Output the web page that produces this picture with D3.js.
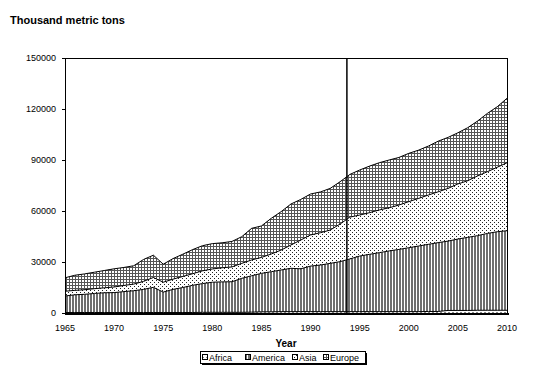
<!DOCTYPE html>
<html>
<head>
<meta charset="utf-8">
<script src="https://cdn.jsdelivr.net/npm/d3@7"></script>
<style>
  body { margin: 0; background: #fff; }
  svg { display: block; font-family: "Liberation Sans", Arial, sans-serif; }
</style>
</head>
<body>
<script>
const years = d3.range(1965, 2011);
const seriesNames = ["Africa", "America", "Asia", "Europe"];

// thousand metric tons
const africa = [300, 300, 300, 300, 300, 300, 300, 300, 300, 300,
  300, 300, 300, 300, 400, 400, 400, 400, 400, 500,
  700, 700, 800, 800, 800, 800, 800, 800, 800, 800,
  800, 800, 800, 800, 800, 800, 800, 900, 900, 1500,
  1500, 1500, 1600, 1600, 1600, 1600];
const america = [9700, 10400, 10700, 11200, 11600, 11700, 12300, 12800, 13600, 14800,
  12000, 13600, 14700, 16000, 16900, 17700, 17900, 18000, 20000, 21400,
  22600, 23600, 24500, 25500, 25200, 26800, 27400, 28400, 29400, 31000,
  32700, 33700, 34700, 35700, 36600, 37600, 38600, 39500, 40500, 40800,
  42000, 43000, 43900, 45200, 46200, 46800];
const asia = [2800, 2600, 2700, 2800, 2900, 3300, 3600, 3900, 4700, 5800,
  5800, 6000, 6500, 6800, 7500, 7800, 8300, 8700, 8800, 9300,
  9400, 10400, 11700, 13700, 16900, 18300, 19000, 19600, 22100, 24600,
  24100, 24500, 25100, 25400, 26100, 27100, 28000, 29000, 29900, 31000,
  32400, 33300, 35100, 36300, 37900, 40000];
const europe = [7900, 8900, 9300, 9700, 10200, 10700, 10600, 10800, 12900, 13100,
  10600, 12100, 13100, 14200, 14800, 14900, 14700, 15000, 15700, 18600,
  18500, 21000, 22600, 24100, 23900, 24100, 24000, 24500, 24900, 25100,
  26500, 27400, 27800, 28100, 28000, 28400, 28400, 28800, 29800, 30000,
  30100, 31200, 32300, 34300, 35600, 37900];
const yTicks = [0, 30000, 60000, 90000, 120000, 150000];
const xLabels = [1965, 1970, 1975, 1980, 1985, 1990, 1995, 2000, 2005, 2010];
const markerYear = 1993.7;

const rows = years.map((y, i) => ({
  year: y, Africa: africa[i], America: america[i], Asia: asia[i], Europe: europe[i]
}));

const width = 544, height = 371;
const margin = {top: 58, right: 37, bottom: 58, left: 65};

const svg = d3.select("body").append("svg")
    .attr("width", width)
    .attr("height", height);

// fill patterns
const defs = svg.append("defs");

const pAfrica = defs.append("pattern").attr("id", "p-Africa")
    .attr("patternUnits", "userSpaceOnUse").attr("width", 4).attr("height", 3)
    .attr("shape-rendering", "crispEdges");
pAfrica.append("rect").attr("width", 4).attr("height", 3).attr("fill", "#fff");
pAfrica.append("rect").attr("width", 2).attr("height", 1).attr("fill", "#888");

const pAmerica = defs.append("pattern").attr("id", "p-America")
    .attr("patternUnits", "userSpaceOnUse").attr("width", 3).attr("height", 3)
    .attr("shape-rendering", "crispEdges");
pAmerica.append("rect").attr("width", 3).attr("height", 3).attr("fill", "#fff");
pAmerica.append("rect").attr("width", 2).attr("height", 3).attr("fill", "#6e6e6e");

const pAsia = defs.append("pattern").attr("id", "p-Asia")
    .attr("patternUnits", "userSpaceOnUse").attr("width", 4).attr("height", 4)
    .attr("shape-rendering", "crispEdges");
pAsia.append("rect").attr("width", 4).attr("height", 4).attr("fill", "#fff");
pAsia.append("rect").attr("x", 0).attr("y", 0).attr("width", 1).attr("height", 1).attr("fill", "#222");
pAsia.append("rect").attr("x", 2).attr("y", 2).attr("width", 1).attr("height", 1).attr("fill", "#222");

const pEurope = defs.append("pattern").attr("id", "p-Europe")
    .attr("patternUnits", "userSpaceOnUse").attr("width", 3).attr("height", 3)
    .attr("shape-rendering", "crispEdges");
pEurope.append("rect").attr("width", 3).attr("height", 3).attr("fill", "#fff");
pEurope.append("rect").attr("width", 3).attr("height", 1).attr("fill", "#555");
pEurope.append("rect").attr("width", 1).attr("height", 3).attr("fill", "#555");

const x = d3.scaleLinear()
    .domain([1965, 2010])
    .range([margin.left, width - margin.right]);

const y = d3.scaleLinear()
    .domain([0, 150000])
    .range([height - margin.bottom, margin.top]);

const stacked = d3.stack().keys(seriesNames)(rows);

const area = d3.area()
    .x(d => x(d.data.year))
    .y0(d => y(d[0]))
    .y1(d => y(d[1]));

const topLine = d3.line()
    .x(d => x(d.data.year))
    .y(d => y(d[1]));

svg.append("g").selectAll("path")
  .data(stacked)
  .join("path")
    .attr("fill", d => `url(#p-${d.key})`)
    .attr("d", area);

svg.append("g").selectAll("path")
  .data(stacked)
  .join("path")
    .attr("fill", "none")
    .attr("stroke", "#000")
    .attr("stroke-width", 1)
    .attr("d", topLine);

// plot frame (top and right)
svg.append("path")
    .attr("fill", "none")
    .attr("stroke", "#000")
    .attr("shape-rendering", "crispEdges")
    .attr("d", `M${x(1965)},${y(150000)}H${x(2010)}V${y(0)}`);

// marker line
svg.append("line")
    .attr("x1", x(markerYear)).attr("x2", x(markerYear))
    .attr("y1", y(150000)).attr("y2", y(0))
    .attr("stroke", "#000")
    .attr("stroke-width", 1.5);

// y axis
const yAxis = svg.append("g")
    .attr("transform", `translate(${margin.left},0)`)
    .attr("shape-rendering", "crispEdges")
    .call(d3.axisLeft(y).tickValues(yTicks).tickSize(3).tickPadding(6).tickFormat(d3.format("d")));
yAxis.select(".domain").attr("stroke-width", 1.5);
yAxis.selectAll("text").attr("font-size", 9).attr("fill", "#000");

// x axis
const xAxis = svg.append("g")
    .attr("transform", `translate(0,${y(0)})`)
    .attr("shape-rendering", "crispEdges")
    .call(d3.axisBottom(x).tickValues(years).tickSize(2).tickFormat(""));
xAxis.select(".domain").attr("stroke-width", 2);

svg.append("g").selectAll("text")
  .data(xLabels)
  .join("text")
    .attr("x", d => x(d))
    .attr("y", y(0) + 18)
    .attr("text-anchor", "middle")
    .attr("font-size", 9)
    .text(d => d);

svg.append("text")
    .attr("x", 10).attr("y", 24)
    .attr("font-size", 11)
    .attr("font-weight", "bold")
    .text("Thousand metric tons");

svg.append("text")
    .attr("x", (x(1965) + x(2010)) / 2)
    .attr("y", 347)
    .attr("text-anchor", "middle")
    .attr("font-size", 10)
    .attr("font-weight", "bold")
    .text("Year");

// legend
const legend = svg.append("g").attr("transform", "translate(200,351)")
    .attr("shape-rendering", "crispEdges");
legend.append("rect").attr("x", 2).attr("y", 2).attr("width", 165).attr("height", 12).attr("fill", "#000");
legend.append("rect").attr("width", 165).attr("height", 12).attr("fill", "#fff").attr("stroke", "#000");
const legendX = [2, 45, 92, 123];
const item = legend.selectAll("g.item")
  .data(seriesNames)
  .join("g")
    .attr("class", "item")
    .attr("transform", (d, i) => `translate(${legendX[i]},0)`);
item.append("rect")
    .attr("x", 0.5).attr("y", 3.5).attr("width", 5).attr("height", 5)
    .attr("fill", d => `url(#p-${d})`)
    .attr("stroke", "#000");
item.append("text")
    .attr("x", 7).attr("y", 10)
    .attr("font-size", 9)
    .text(d => d);
</script>
</body>
</html>
